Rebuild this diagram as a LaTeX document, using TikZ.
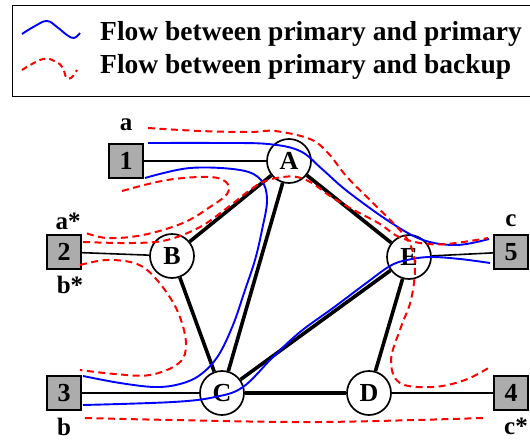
\documentclass[tikz,border=0pt]{standalone}
\usepackage{fontspec}
\setmainfont{Liberation Serif}
\begin{document}
\begin{tikzpicture}[x=1pt,y=-1pt,
  thinedge/.style={line width=1.6pt},
  thickedge/.style={line width=3.6pt},
  blueflow/.style={blue, line width=1.9pt},
  redflow/.style={red, line width=2pt, dash pattern=on 7pt off 4.5pt},
  router/.style={circle, draw, line width=1.7pt, fill=white, minimum size=44pt, inner sep=0pt, font=\fontsize{26}{26}\selectfont\bfseries},
  host/.style={draw, line width=1.7pt, fill=gray!65, minimum size=34pt, inner sep=0pt, font=\fontsize{26}{26}\selectfont\bfseries},
  lbl/.style={font=\fontsize{25}{25}\selectfont\bfseries, inner sep=0pt},
  legtext/.style={font=\fontsize{27.5}{27.5}\selectfont\bfseries, anchor=west, inner sep=0pt}]
\useasboundingbox (0,0) rectangle (530,442);
% legend
\draw[line width=1pt] (12,5) rectangle (540,96);
\draw[blueflow] plot[smooth, tension=0.7] coordinates {(22,34) (35,26) (47,21) (57,27) (67,35) (74,38) (80,33)};
\draw[redflow, dash pattern=on 6pt off 4pt] plot[smooth, tension=0.7] coordinates {(22,70) (43,59) (56,62) (63,68) (66,77) (71,78) (77,70)};
\node[legtext] (l1) at (100,34) {Flow between primary and primary};
\node[legtext] (l2) at (100,67) {Flow between primary and backup};
% nodes
\node[host] (s1) at (126,161) {1};
\node[host] (s2) at (64,252) {2};
\node[host] (s3) at (64,393) {3};
\node[host] (s4) at (511,393) {4};
\node[host] (s5) at (511,252) {5};
\node[router] (A) at (289,161) {A};
\node[router] (B) at (172,256) {B};
\node[router] (C) at (222,393) {C};
\node[router] (D) at (369,393) {D};
\node[router] (E) at (409,257) {E};
% labels
\node[lbl] (la) at (126,125) {a};
\node[lbl] (las) at (68,221) {a*};
\node[lbl] (lbs) at (70,285) {b*};
\node[lbl] (lb) at (64,427) {b};
\node[lbl] (lc) at (511,221) {c};
\node[lbl] (lcs) at (516,426) {c*};
% edges
\draw[thinedge] (s1) -- (A);
\draw[thinedge] (s2) -- (B);
\draw[thinedge] (s3) -- (C);
\draw[thinedge] (s4) -- (D);
\draw[thinedge] (s5) -- (E);
\draw[thickedge] (A) -- (B);
\draw[thickedge] (A) -- (C);
\draw[thickedge] (A) -- (E);
\draw[thickedge] (B) -- (C);
\draw[thickedge] (C) -- (E);
\draw[thickedge] (C) -- (D);
\draw[thickedge] (E) -- (D);
% primary flows
\coordinate (b1s) at (148,143);
\coordinate (b1e) at (489,239);
\draw[blueflow] plot[smooth, tension=0.6] coordinates {(b1s) (220,143) (268,144) (300,151) (322,169) (347,191) (390,222) (423,240) (457,245) (b1e)};
\coordinate (b2s) at (145,178);
\coordinate (b2e) at (83,376);
\draw[blueflow] plot[smooth, tension=0.6] coordinates {(b2s) (190,168) (240,170) (261,180) (267,200) (262,230) (255,260) (245,290) (233,325) (218,356) (200,375) (180,384) (155,387) (120,383) (b2e)};
\coordinate (b3s) at (83,405);
\coordinate (b3e) at (490,263);
\draw[blueflow] plot[smooth, tension=0.6] coordinates {(b3s) (173,402) (215,397) (243,387) (273,357) (300,332) (333,308) (365,284) (390,266) (407,260) (430,257) (460,259) (b3e)};
% backup flows
\coordinate (r1s) at (148,128);
\coordinate (r1e) at (490,367);
\draw[redflow] plot[smooth, tension=0.6] coordinates {(r1s) (200,131) (250,132) (275,131) (310,139) (328,153) (347,177) (373,203) (397,227) (410,244) (415,267) (411,300) (401,327) (391,360) (400,383) (433,387) (465,380) (r1e)};
\coordinate (r2s) at (83,242);
\coordinate (r2e) at (488,238);
\draw[redflow] plot[smooth, tension=0.6] coordinates {(r2s) (133,243) (167,240) (200,227) (227,208) (250,190) (265,181) (283,177) (297,177) (312,183) (330,196) (350,208) (380,224) (397,236) (420,243) (447,244) (r2e)};
\coordinate (r3s) at (122,191);
\coordinate (r3e) at (83,232);
\draw[redflow] plot[smooth, tension=0.6] coordinates {(r3s) (167,180) (210,177) (227,183) (227,194) (210,207) (183,223) (143,235) (107,238) (r3e)};
\coordinate (r4s) at (80,265);
\coordinate (r4e) at (80,370);
\draw[redflow] plot[smooth, tension=0.6] coordinates {(r4s) (107,260) (137,264) (157,280) (177,310) (186,343) (179,363) (150,375) (115,374) (r4e)};
\coordinate (r5s) at (85,418);
\coordinate (r5e) at (483,418);
\draw[redflow] plot[smooth, tension=0.6] coordinates {(r5s) (173,420) (320,422) (r5e)};
\end{tikzpicture}
\end{document}
